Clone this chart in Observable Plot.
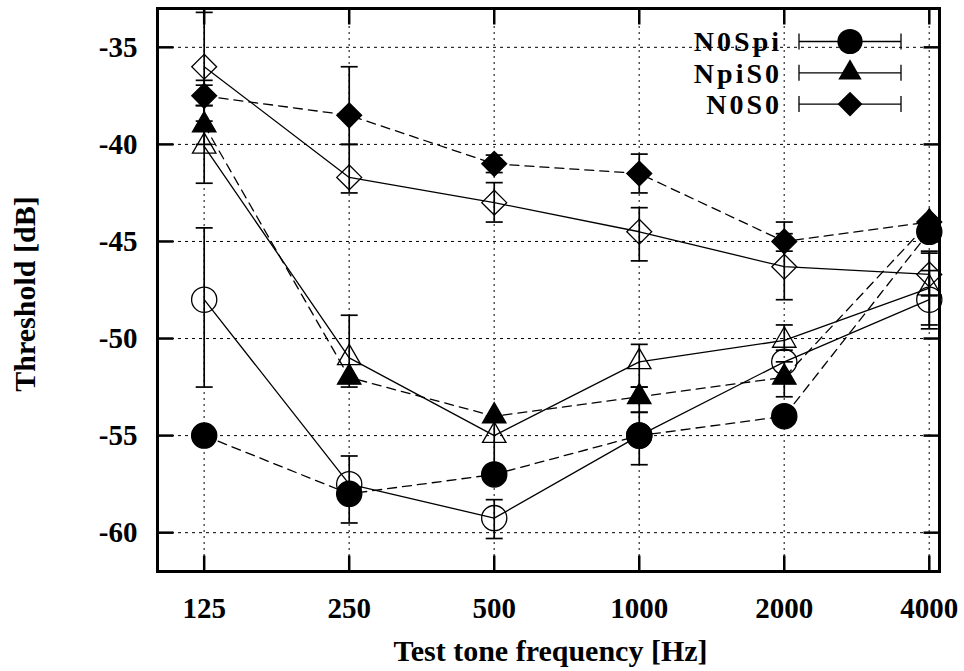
<!DOCTYPE html>
<html><head><meta charset="utf-8">
<script src="https://cdn.jsdelivr.net/npm/d3@7"></script>
<script src="https://cdn.jsdelivr.net/npm/@observablehq/plot@0.6"></script>
<style>
html,body{margin:0;padding:0;background:#fff;}
#wrap{position:relative;width:964px;height:671px;}
#wrap svg{position:absolute;left:0;top:0;}
</style></head><body><div id="wrap"></div>
<script>
// ---- data ----
const freqs = [125, 250, 500, 1000, 2000, 4000];
const yTicks = [-35, -40, -45, -50, -55, -60];
const legendNames = ["N0Spi", "NpiS0", "N0S0"];

const n0spiFilled = [-55, -58, -57, -55, -54, -44.5];
const n0spiOpen   = [-48, -57.5, -59.25, -55, -51.2, -48];
const npis0Filled = [-39, -52, -54, -53, -52, -44];
const npis0Open   = [-40.1, -51, -55, -51.2, -50.1, -47.4];
const n0s0Filled  = [-37.5, -38.5, -41, -41.5, -45, -44];
const n0s0Open    = [-36, -41.7, -43, -44.5, -46.3, -46.7];

// error bar limits (low / high), null = no bar
const n0spiOpenLo  = [-52.5, -59.5, -60.3, -56.5, null, -49.5];
const n0spiOpenHi  = [-44.3, -56.05, -58.3, -53.8, null, -46.5];
const npis0FilledLo = [-40, null, null, -53.8, -53.0, null];
const npis0FilledHi = [-36.95, null, null, -52.5, -51.2, null];
const npis0OpenLo  = [-42, -52.5, -56.5, -52.5, -50.6, -49.3];
const npis0OpenHi  = [-38, -48.8, -54, -50.3, -49.3, -45.5];
const n0s0FilledLo = [-38, -40, -41.45, -42.5, -45.5, null];
const n0s0FilledHi = [-36.7, -36, -40.55, -40.5, -44, null];
const n0s0OpenLo   = [-38.8, -42.5, -44, -46, -48, -47.8];
const n0s0OpenHi   = [-33.2, -40, -41.97, -43.26, -44.6, -45.6];

// ---- build ----
const FONT = "'Liberation Serif', 'Times New Roman', serif";
function rows(vals, lo, hi) {
  return freqs.map((f, i) => ({f, v: vals[i], lo: lo ? lo[i] : null, hi: hi ? hi[i] : null}));
}
const R = {circle: 12.6, triangle: 8.7, diamond2: 11.2};
const series = [
  {filled: false, symbol: "circle",   data: rows(n0spiOpen, n0spiOpenLo, n0spiOpenHi)},
  {filled: false, symbol: "triangle", data: rows(npis0Open, npis0OpenLo, npis0OpenHi)},
  {filled: false, symbol: "diamond2", data: rows(n0s0Open, n0s0OpenLo, n0s0OpenHi)},
  {filled: true,  symbol: "circle",   data: rows(n0spiFilled)},
  {filled: true,  symbol: "triangle", data: rows(npis0Filled, npis0FilledLo, npis0FilledHi)},
  {filled: true,  symbol: "diamond2", data: rows(n0s0Filled, n0s0FilledLo, n0s0FilledHi)}
];

const capSym   = {draw(c) { c.moveTo(-8.5, 0); c.lineTo(8.5, 0); }};
const tickR    = {draw(c) { c.moveTo(0, 0); c.lineTo(16, 0); }};
const tickL    = {draw(c) { c.moveTo(0, 0); c.lineTo(-16, 0); }};
const tickU    = {draw(c) { c.moveTo(0, 0); c.lineTo(0, -16); }};
const tickD    = {draw(c) { c.moveTo(0, 0); c.lineTo(0, 16); }};

const marks = [
  Plot.ruleY(yTicks, {y: d => d, stroke: "#000", strokeWidth: 1, strokeDasharray: "3,4"}),
  Plot.ruleX(freqs, {x: d => d, stroke: "#555", strokeWidth: 1.5, strokeDasharray: "2,4"})
];
for (const s of series) {
  marks.push(Plot.line(s.data, {x: "f", y: "v", stroke: "#000", strokeWidth: 1.3,
    strokeDasharray: s.filled ? "9,6" : null}));
}
for (const s of series) {
  const eb = s.data.filter(d => d.lo != null);
  const caps = eb.flatMap(d => [{f: d.f, y: d.lo}, {f: d.f, y: d.hi}]);
  marks.push(Plot.ruleX(eb, {x: "f", y1: "lo", y2: "hi", stroke: "#000", strokeWidth: 1.7}));
  marks.push(Plot.dot(caps, {x: "f", y: "y", symbol: capSym, r: 5, stroke: "#000", strokeWidth: 1.7}));
}
for (const s of series) {
  marks.push(Plot.dot(s.data, {x: "f", y: "v", symbol: s.symbol, r: R[s.symbol],
    fill: s.filled ? "#000" : "none", stroke: "#000", strokeWidth: 1.3}));
}
const txt = {fontWeight: "bold", fontFamily: FONT, fill: "#000", lineAnchor: "middle"};
marks.push(
  Plot.dot(yTicks, {y: d => d, frameAnchor: "left", symbol: tickR, r: 5, stroke: "#000", strokeWidth: 2.5}),
  Plot.dot(yTicks, {y: d => d, frameAnchor: "right", symbol: tickL, r: 5, stroke: "#000", strokeWidth: 2.5}),
  Plot.dot(freqs, {x: d => d, frameAnchor: "bottom", symbol: tickU, r: 5, stroke: "#000", strokeWidth: 2.5}),
  Plot.dot(freqs, {x: d => d, frameAnchor: "top", symbol: tickD, r: 5, stroke: "#000", strokeWidth: 2.5}),
  Plot.frame({stroke: "#000", strokeWidth: 3}),
  Plot.text(yTicks, {...txt, y: d => d, text: d => String(d), frameAnchor: "left", dx: -20,
    textAnchor: "end", fontSize: 29, letterSpacing: "1px"}),
  Plot.text(freqs, {...txt, x: d => d, text: d => String(d), frameAnchor: "bottom", dy: 37,
    textAnchor: "middle", fontSize: 29}),
  Plot.text(["Test tone frequency [Hz]"], {...txt, frameAnchor: "bottom", dy: 80, dx: 2,
    textAnchor: "middle", fontSize: 30, letterSpacing: "1.5px"}),
  Plot.text(["Threshold [dB]"], {...txt, frameAnchor: "left", dx: -132, dy: 4, rotate: -90,
    textAnchor: "middle", fontSize: 30, letterSpacing: "1.3px"})
);

const chart = Plot.plot({
  width: 964, height: 671,
  marginLeft: 157, marginRight: 25, marginTop: 8, marginBottom: 100,
  style: {background: "#fff", overflow: "visible"},
  x: {type: "log", base: 2, domain: [100, 4200], axis: null},
  y: {domain: [-62, -33], axis: null},
  marks
});
const wrap = document.getElementById("wrap");
wrap.appendChild(chart);

// ---- legend (inside the plot, top right) ----
const legSyms = [d3.symbolCircle, d3.symbolTriangle, d3.symbolDiamond2];
const legR = [R.circle, R.triangle, R.diamond2];
const leg = d3.select(wrap).append("svg").attr("width", 964).attr("height", 671)
  .style("pointer-events", "none");
legendNames.forEach((name, i) => {
  const y = 41.5 + i * 31.3;
  const g = leg.append("g");
  g.append("text").attr("x", 782).attr("y", y).attr("dy", "0.35em").attr("text-anchor", "end")
    .attr("font-family", FONT).attr("font-weight", "bold").attr("font-size", 28)
    .style("letter-spacing", "3px").text(name);
  g.append("path").attr("d", `M799,${y}H901M799,${y - 8}V${y + 8}M901,${y - 8}V${y + 8}`)
    .attr("stroke", "#000").attr("stroke-width", 1.3).attr("fill", "none");
  g.append("path").attr("transform", `translate(850,${y})`)
    .attr("d", d3.symbol(legSyms[i], legR[i] * legR[i] * Math.PI)()).attr("fill", "#000");
});
</script>
</body></html>
